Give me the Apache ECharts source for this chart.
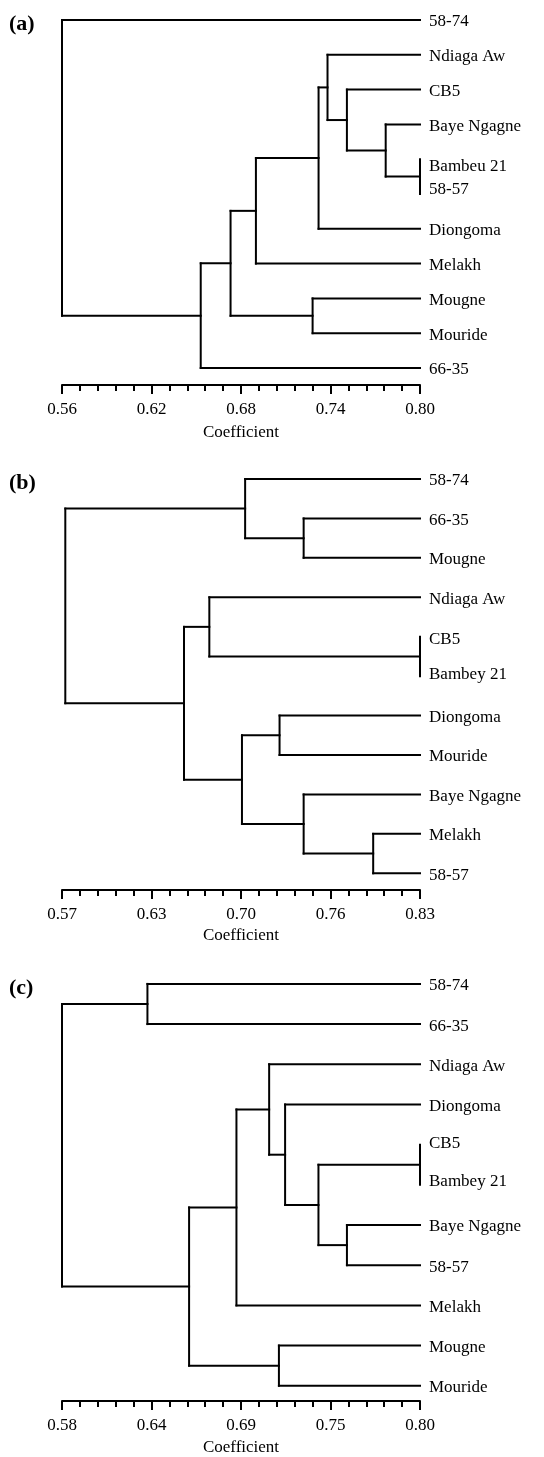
<!DOCTYPE html>
<html>
<head>
<meta charset="utf-8">
<script src="https://cdn.jsdelivr.net/npm/echarts@6/dist/echarts.min.js"></script>
<style>
html,body{margin:0;padding:0;background:#fff;}
#chart{width:544px;height:1457px;}
</style>
</head>
<body>
<div id="chart"></div>
<script>
// ---------- DATA ----------
// Panel (a)
const leavesA = ["58-74","Ndiaga Aw","CB5","Baye Ngagne","Bambeu 21","58-57","Diongoma","Melakh","Mougne","Mouride","66-35"];
const pairsA = [["Bambeu 21","58-57"],["Baye Ngagne","m0"],["CB5","m1"],["Ndiaga Aw","m2"],["m3","Diongoma"],["m4","Melakh"],["Mougne","Mouride"],["m5","m6"],["m7","66-35"],["58-74","m8"]];
const heightsA = [0.800,0.777,0.751,0.738,0.732,0.690,0.728,0.673,0.653,0.560];
const ticksA = ["0.56","0.62","0.68","0.74","0.80"];
const rangeA = [0.56,0.80];

// Panel (b)
const leavesB = ["58-74","66-35","Mougne","Ndiaga Aw","CB5","Bambey 21","Diongoma","Mouride","Baye Ngagne","Melakh","58-57"];
const pairsB = [["66-35","Mougne"],["58-74","m0"],["CB5","Bambey 21"],["Ndiaga Aw","m2"],["Diongoma","Mouride"],["Melakh","58-57"],["Baye Ngagne","m5"],["m4","m6"],["m3","m7"],["m1","m8"]];
const heightsB = [0.7455,0.703,0.830,0.677,0.728,0.796,0.7455,0.7007,0.6586,0.5724];
const ticksB = ["0.57","0.63","0.70","0.76","0.83"];
const rangeB = [0.57,0.83];

// Panel (c)
const leavesC = ["58-74","66-35","Ndiaga Aw","Diongoma","CB5","Bambey 21","Baye Ngagne","58-57","Melakh","Mougne","Mouride"];
const pairsC = [["58-74","66-35"],["CB5","Bambey 21"],["Baye Ngagne","58-57"],["m1","m2"],["Diongoma","m3"],["Ndiaga Aw","m4"],["m5","Melakh"],["Mougne","Mouride"],["m6","m7"],["m0","m8"]];
const heightsC = [0.6325,0.800,0.7551,0.7376,0.7171,0.7073,0.6872,0.7133,0.6581,0.580];
const ticksC = ["0.58","0.64","0.69","0.75","0.80"];
const rangeC = [0.58,0.80];

// ---------- LAYOUT / STYLE ----------
const FONT = "Liberation Serif";
const FS = 17;
const LABEL_DY = 2;
const panels = [
  {tag:"(a)", leaves:leavesA, pairs:pairsA, heights:heightsA, ticks:ticksA, range:rangeA, y0:20,  s:34.8,  axisY:385,  nameGap:39, tie:[5,-6]},
  {tag:"(b)", leaves:leavesB, pairs:pairsB, heights:heightsB, ticks:ticksB, range:rangeB, y0:479, s:39.43, axisY:890,  nameGap:37, tie:[1,-4]},
  {tag:"(c)", leaves:leavesC, pairs:pairsC, heights:heightsC, ticks:ticksC, range:rangeC, y0:984, s:40.37, axisY:1403, nameGap:38, tie:[-3,-5]}
];
const GRID_LEFT = 62, GRID_W = 358;

function buildSegments(p){
  const max = p.range[1];
  const nodes = {};
  p.leaves.forEach((n,i)=>{ nodes[n] = {y:i, h:max, leaf:true}; });
  const segs = [];
  const labelShift = p.leaves.map(()=>0);
  p.pairs.forEach((pr,k)=>{
    const h = p.heights[k];
    const a = nodes[pr[0]], b = nodes[pr[1]];
    segs.push([h, a.y, h, b.y]);               // vertical
    if (a.h !== h) segs.push([h, a.y, a.h, a.y]);
    if (b.h !== h) segs.push([h, b.y, b.h, b.y]);
    if (a.leaf && b.leaf && h === max){
      const top = a.y < b.y ? pr[0] : pr[1];
      const bot = a.y < b.y ? pr[1] : pr[0];
      labelShift[p.leaves.indexOf(top)] = p.tie[0];
      labelShift[p.leaves.indexOf(bot)] = p.tie[1];
    }
    nodes["m"+k] = {y:(a.y+b.y)/2, h:h, leaf:false};
  });
  return {segs, labelShift};
}

const option = {
  animation:false,
  backgroundColor:'#fff',
  textStyle:{fontFamily:FONT},
  title:[], grid:[], xAxis:[], yAxis:[], series:[]
};

panels.forEach((p,i)=>{
  const top = p.y0 - 0.5*p.s;
  const height = p.axisY - top;
  const yMax = -0.5 + height/p.s;
  option.grid.push({left:GRID_LEFT, width:GRID_W, top:top, height:height, containLabel:false});
  option.title.push({text:p.tag, left:9, top:p.y0 - 7, padding:0,
    textStyle:{fontSize:22, fontWeight:'bold', fontFamily:FONT, color:'#000'}});
  // display axis (tick structure)
  option.xAxis.push({
    type:'value', gridIndex:i, position:'bottom', min:0, max:20, interval:5,
    axisLine:{show:true, onZero:false, lineStyle:{color:'#000', width:2}},
    axisTick:{show:true, length:9, lineStyle:{color:'#000', width:2}},
    minorTick:{show:true, splitNumber:5, length:6, lineStyle:{color:'#000', width:2}},
    splitLine:{show:false}, minorSplitLine:{show:false},
    axisLabel:{show:true, margin:16, fontSize:FS, fontFamily:FONT, color:'#000',
      formatter:(v)=>{ const k=Math.round(v/5); return p.ticks[k]!==undefined? p.ticks[k]:''; }},
    name:'Coefficient', nameLocation:'middle', nameGap:p.nameGap,
    nameTextStyle:{fontSize:FS, fontFamily:FONT, color:'#000'}
  });
  // data axis
  option.xAxis.push({type:'value', gridIndex:i, min:p.range[0], max:p.range[1], show:false,
    axisLine:{show:false}, axisTick:{show:false}, axisLabel:{show:false}, splitLine:{show:false}});
  option.yAxis.push({type:'value', gridIndex:i, min:-0.5, max:yMax, inverse:true, show:false,
    axisLine:{show:false}, axisTick:{show:false}, axisLabel:{show:false}, splitLine:{show:false}});

  const built = buildSegments(p);
  option.series.push({
    type:'custom', xAxisIndex:2*i+1, yAxisIndex:i, clip:false, silent:true,
    encode:{x:[0,2], y:[1,3]},
    data:built.segs,
    renderItem:(params, api)=>{
      const p1 = api.coord([api.value(0), api.value(1)]);
      const p2 = api.coord([api.value(2), api.value(3)]);
      return {type:'line', shape:{x1:p1[0], y1:p1[1], x2:p2[0], y2:p2[1]},
        style:{stroke:'#000', lineWidth:2, lineCap:'square'}};
    }
  });
  option.series.push({
    type:'custom', xAxisIndex:2*i+1, yAxisIndex:i, clip:false, silent:true,
    encode:{x:0, y:1},
    data:p.leaves.map((n,k)=>[p.range[1], k]),
    renderItem:(params, api)=>{
      const pt = api.coord([api.value(0), api.value(1)]);
      const k = params.dataIndex;
      return {type:'text', x:pt[0]+9, y:pt[1]+LABEL_DY+built.labelShift[k],
        style:{text:p.leaves[k], fill:'#000', fontSize:FS, fontFamily:FONT,
          align:'left', verticalAlign:'middle'}};
    }
  });
});

const chart = echarts.init(document.getElementById('chart'), null, {renderer:'canvas'});
chart.setOption(option);
</script>
</body>
</html>
